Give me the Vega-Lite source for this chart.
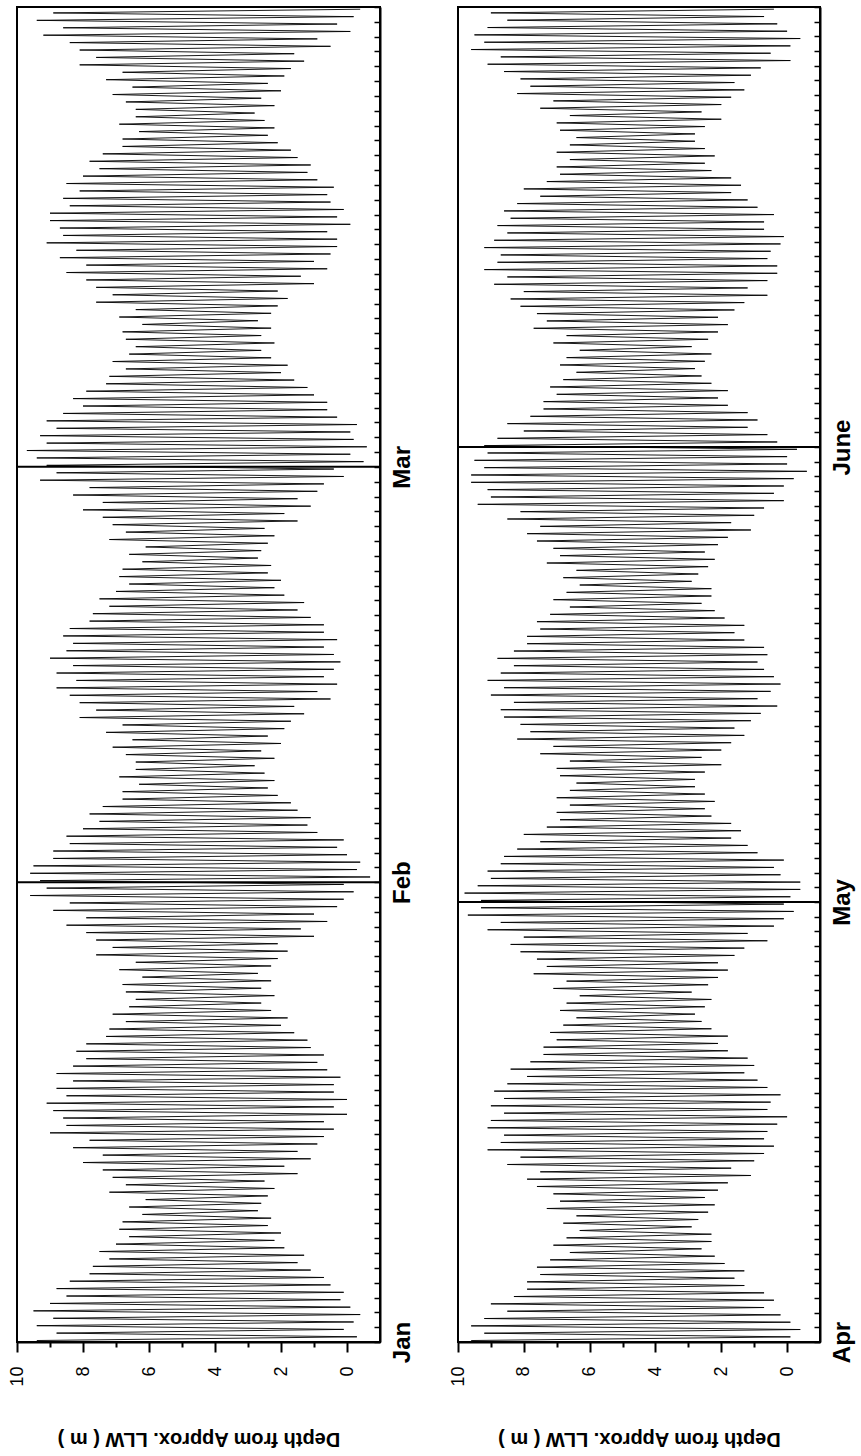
{
"$schema":"https://vega.github.io/schema/vega-lite/v6.json",
"padding":{"left":7,"top":5,"right":5,"bottom":5},
"spacing":32,
"config":{"font":"Liberation Sans","view":{"stroke":"black","strokeWidth":2},"axis":{"grid":false,"domainColor":"black","domainWidth":2,"tickColor":"black","tickWidth":2,"labelColor":"black","titleColor":"black"}},
"datasets":{
"a":[
{"t":0.1,"d":9.4},{"t":0.35,"d":-0.3},{"t":0.6,"d":8.8},{"t":0.85,"d":0.1},
{"t":1.1,"d":9.4},{"t":1.35,"d":-0.2},{"t":1.6,"d":8.9},{"t":1.85,"d":-0.4},
{"t":2.1,"d":9.5},{"t":2.35,"d":-0.1},{"t":2.6,"d":9.0},{"t":2.85,"d":0.2},
{"t":3.1,"d":8.5},{"t":3.35,"d":0.1},{"t":3.6,"d":8.8},{"t":3.85,"d":0.5},
{"t":4.1,"d":8.4},{"t":4.35,"d":0.7},{"t":4.6,"d":7.8},{"t":4.85,"d":1.1},
{"t":5.1,"d":7.7},{"t":5.35,"d":1.5},{"t":5.6,"d":7.2},{"t":5.85,"d":1.3},
{"t":6.1,"d":7.5},{"t":6.35,"d":1.9},{"t":6.6,"d":7.0},{"t":6.85,"d":2.2},
{"t":7.1,"d":6.6},{"t":7.35,"d":2.0},{"t":7.6,"d":6.9},{"t":7.85,"d":2.4},
{"t":8.1,"d":6.8},{"t":8.35,"d":2.3},{"t":8.6,"d":6.2},{"t":8.85,"d":2.7},
{"t":9.1,"d":6.6},{"t":9.35,"d":2.6},{"t":9.6,"d":6.1},{"t":9.85,"d":2.4},
{"t":10.1,"d":7.2},{"t":10.35,"d":2.2},{"t":10.6,"d":6.7},{"t":10.85,"d":2.5},
{"t":11.1,"d":7.1},{"t":11.35,"d":1.5},{"t":11.6,"d":7.4},{"t":11.85,"d":1.9},
{"t":12.1,"d":8.0},{"t":12.35,"d":1.1},{"t":12.6,"d":7.4},{"t":12.85,"d":1.5},
{"t":13.1,"d":8.3},{"t":13.35,"d":0.9},{"t":13.6,"d":7.8},{"t":13.85,"d":0.7},
{"t":14.1,"d":9.0},{"t":14.35,"d":0.4},{"t":14.6,"d":8.5},{"t":14.85,"d":0.7},
{"t":15.1,"d":8.6},{"t":15.35,"d":0.0},{"t":15.6,"d":8.9},{"t":15.85,"d":0.4},
{"t":16.1,"d":9.1},{"t":16.35,"d":0.0},{"t":16.6,"d":8.5},{"t":16.85,"d":0.4},
{"t":17.1,"d":8.8},{"t":17.35,"d":0.4},{"t":17.6,"d":8.3},{"t":17.85,"d":0.2},
{"t":18.1,"d":8.8},{"t":18.35,"d":0.6},{"t":18.6,"d":8.3},{"t":18.85,"d":0.9},
{"t":19.1,"d":7.9},{"t":19.35,"d":0.7},{"t":19.6,"d":8.2},{"t":19.85,"d":1.1},
{"t":20.1,"d":7.9},{"t":20.35,"d":1.2},{"t":20.6,"d":7.3},{"t":20.85,"d":1.6},
{"t":21.1,"d":7.2},{"t":21.35,"d":2.0},{"t":21.6,"d":6.7},{"t":21.85,"d":1.8},
{"t":22.1,"d":7.1},{"t":22.35,"d":2.3},{"t":22.6,"d":6.6},{"t":22.85,"d":2.6},
{"t":23.1,"d":6.4},{"t":23.35,"d":2.2},{"t":23.6,"d":6.7},{"t":23.85,"d":2.6},
{"t":24.1,"d":6.8},{"t":24.35,"d":2.3},{"t":24.6,"d":6.2},{"t":24.85,"d":2.7},
{"t":25.1,"d":6.9},{"t":25.35,"d":2.3},{"t":25.6,"d":6.4},{"t":25.85,"d":2.1},
{"t":26.1,"d":7.6},{"t":26.35,"d":1.8},{"t":26.6,"d":7.1},{"t":26.85,"d":2.1},
{"t":27.1,"d":7.6},{"t":27.35,"d":1.0},{"t":27.6,"d":7.9},{"t":27.85,"d":1.4},
{"t":28.1,"d":8.5},{"t":28.35,"d":0.6},{"t":28.6,"d":7.9},{"t":28.85,"d":1.0},
{"t":29.1,"d":8.9},{"t":29.35,"d":0.3},{"t":29.6,"d":8.4},{"t":29.85,"d":0.1},
{"t":30.1,"d":9.6},{"t":30.35,"d":-0.2},{"t":30.6,"d":9.1},{"t":30.85,"d":0.1},
{"t":31.1,"d":9.3},{"t":31.35,"d":-0.7},{"t":31.6,"d":9.6},{"t":31.85,"d":-0.3},
{"t":32.1,"d":9.5},{"t":32.35,"d":-0.4},{"t":32.6,"d":8.9},{"t":32.85,"d":0.0},
{"t":33.1,"d":8.9},{"t":33.35,"d":0.3},{"t":33.6,"d":8.4},{"t":33.85,"d":0.1},
{"t":34.1,"d":8.5},{"t":34.35,"d":0.9},{"t":34.6,"d":8.0},{"t":34.85,"d":1.2},
{"t":35.1,"d":7.5},{"t":35.35,"d":1.1},{"t":35.6,"d":7.8},{"t":35.85,"d":1.5},
{"t":36.1,"d":7.4},{"t":36.35,"d":1.7},{"t":36.6,"d":6.8},{"t":36.85,"d":2.1},
{"t":37.1,"d":6.8},{"t":37.35,"d":2.4},{"t":37.6,"d":6.3},{"t":37.85,"d":2.2},
{"t":38.1,"d":6.9},{"t":38.35,"d":2.5},{"t":38.6,"d":6.4},{"t":38.85,"d":2.8},
{"t":39.1,"d":6.4},{"t":39.35,"d":2.2},{"t":39.6,"d":6.7},{"t":39.85,"d":2.6},
{"t":40.1,"d":7.1},{"t":40.35,"d":2.0},{"t":40.6,"d":6.5},{"t":40.85,"d":2.4},
{"t":41.1,"d":7.3},{"t":41.35,"d":1.9},{"t":41.6,"d":6.8},{"t":41.85,"d":1.7},
{"t":42.1,"d":8.1},{"t":42.35,"d":1.3},{"t":42.6,"d":7.6},{"t":42.85,"d":1.6},
{"t":43.1,"d":8.1},{"t":43.35,"d":0.5},{"t":43.6,"d":8.4},{"t":43.85,"d":0.9},
{"t":44.1,"d":8.8},{"t":44.35,"d":0.3},{"t":44.6,"d":8.2},{"t":44.85,"d":0.7},
{"t":45.1,"d":8.8},{"t":45.35,"d":0.4},{"t":45.6,"d":8.3},{"t":45.85,"d":0.2},
{"t":46.1,"d":9.0},{"t":46.35,"d":0.4},{"t":46.6,"d":8.5},{"t":46.85,"d":0.7},
{"t":47.1,"d":8.3},{"t":47.35,"d":0.3},{"t":47.6,"d":8.6},{"t":47.85,"d":0.7},
{"t":48.1,"d":8.4},{"t":48.35,"d":0.7},{"t":48.6,"d":7.8},{"t":48.85,"d":1.1},
{"t":49.1,"d":7.7},{"t":49.35,"d":1.5},{"t":49.6,"d":7.2},{"t":49.85,"d":1.3},
{"t":50.1,"d":7.5},{"t":50.35,"d":1.9},{"t":50.6,"d":7.0},{"t":50.85,"d":2.2},
{"t":51.1,"d":6.6},{"t":51.35,"d":2.0},{"t":51.6,"d":6.9},{"t":51.85,"d":2.4},
{"t":52.1,"d":6.8},{"t":52.35,"d":2.3},{"t":52.6,"d":6.2},{"t":52.85,"d":2.7},
{"t":53.1,"d":6.6},{"t":53.35,"d":2.6},{"t":53.6,"d":6.1},{"t":53.85,"d":2.4},
{"t":54.1,"d":7.2},{"t":54.35,"d":2.2},{"t":54.6,"d":6.7},{"t":54.85,"d":2.5},
{"t":55.1,"d":7.1},{"t":55.35,"d":1.5},{"t":55.6,"d":7.4},{"t":55.85,"d":1.9},
{"t":56.1,"d":8.0},{"t":56.35,"d":1.1},{"t":56.6,"d":7.4},{"t":56.85,"d":1.5},
{"t":57.1,"d":8.3},{"t":57.35,"d":0.9},{"t":57.6,"d":7.8},{"t":57.85,"d":0.7},
{"t":58.1,"d":9.3},{"t":58.35,"d":0.1},{"t":58.6,"d":8.8},{"t":58.85,"d":0.4},
{"t":59.1,"d":9.1},{"t":59.35,"d":-0.5},{"t":59.6,"d":9.4},{"t":59.85,"d":-0.1},
{"t":60.1,"d":9.7},{"t":60.35,"d":-0.6},{"t":60.6,"d":9.1},{"t":60.85,"d":-0.2},
{"t":61.1,"d":9.3},{"t":61.35,"d":-0.1},{"t":61.6,"d":8.8},{"t":61.85,"d":-0.3},
{"t":62.1,"d":9.1},{"t":62.35,"d":0.3},{"t":62.6,"d":8.6},{"t":62.85,"d":0.6},
{"t":63.1,"d":8.0},{"t":63.35,"d":0.6},{"t":63.6,"d":8.3},{"t":63.85,"d":1.0},
{"t":64.1,"d":7.9},{"t":64.35,"d":1.2},{"t":64.6,"d":7.3},{"t":64.85,"d":1.6},
{"t":65.1,"d":7.2},{"t":65.35,"d":2.0},{"t":65.6,"d":6.7},{"t":65.85,"d":1.8},
{"t":66.1,"d":7.1},{"t":66.35,"d":2.3},{"t":66.6,"d":6.6},{"t":66.85,"d":2.6},
{"t":67.1,"d":6.4},{"t":67.35,"d":2.2},{"t":67.6,"d":6.7},{"t":67.85,"d":2.6},
{"t":68.1,"d":6.8},{"t":68.35,"d":2.3},{"t":68.6,"d":6.2},{"t":68.85,"d":2.7},
{"t":69.1,"d":6.9},{"t":69.35,"d":2.3},{"t":69.6,"d":6.4},{"t":69.85,"d":2.1},
{"t":70.1,"d":7.6},{"t":70.35,"d":1.8},{"t":70.6,"d":7.1},{"t":70.85,"d":2.1},
{"t":71.1,"d":7.6},{"t":71.35,"d":1.0},{"t":71.6,"d":7.9},{"t":71.85,"d":1.4},
{"t":72.1,"d":8.5},{"t":72.35,"d":0.6},{"t":72.6,"d":7.9},{"t":72.85,"d":1.0},
{"t":73.1,"d":8.7},{"t":73.35,"d":0.5},{"t":73.6,"d":8.2},{"t":73.85,"d":0.3},
{"t":74.1,"d":9.1},{"t":74.35,"d":0.3},{"t":74.6,"d":8.6},{"t":74.85,"d":0.6},
{"t":75.1,"d":8.7},{"t":75.35,"d":-0.1},{"t":75.6,"d":9.0},{"t":75.85,"d":0.3},
{"t":76.1,"d":9.0},{"t":76.35,"d":0.1},{"t":76.6,"d":8.4},{"t":76.85,"d":0.5},
{"t":77.1,"d":8.6},{"t":77.35,"d":0.6},{"t":77.6,"d":8.1},{"t":77.85,"d":0.4},
{"t":78.1,"d":8.5},{"t":78.35,"d":0.9},{"t":78.6,"d":8.0},{"t":78.85,"d":1.2},
{"t":79.1,"d":7.5},{"t":79.35,"d":1.1},{"t":79.6,"d":7.8},{"t":79.85,"d":1.5},
{"t":80.1,"d":7.4},{"t":80.35,"d":1.7},{"t":80.6,"d":6.8},{"t":80.85,"d":2.1},
{"t":81.1,"d":6.8},{"t":81.35,"d":2.4},{"t":81.6,"d":6.3},{"t":81.85,"d":2.2},
{"t":82.1,"d":6.9},{"t":82.35,"d":2.5},{"t":82.6,"d":6.4},{"t":82.85,"d":2.8},
{"t":83.1,"d":6.4},{"t":83.35,"d":2.2},{"t":83.6,"d":6.7},{"t":83.85,"d":2.6},
{"t":84.1,"d":7.1},{"t":84.35,"d":2.0},{"t":84.6,"d":6.5},{"t":84.85,"d":2.4},
{"t":85.1,"d":7.3},{"t":85.35,"d":1.9},{"t":85.6,"d":6.8},{"t":85.85,"d":1.7},
{"t":86.1,"d":8.1},{"t":86.35,"d":1.3},{"t":86.6,"d":7.6},{"t":86.85,"d":1.6},
{"t":87.1,"d":8.1},{"t":87.35,"d":0.5},{"t":87.6,"d":8.4},{"t":87.85,"d":0.9},
{"t":88.1,"d":9.2},{"t":88.35,"d":-0.1},{"t":88.6,"d":8.6},{"t":88.85,"d":0.3},
{"t":89.1,"d":9.4},{"t":89.35,"d":-0.2},{"t":89.6,"d":8.9},{"t":89.85,"d":-0.4}
],
"b":[
{"t":0.1,"d":9.6},{"t":0.35,"d":-0.1},{"t":0.6,"d":9.2},{"t":0.85,"d":-0.4},
{"t":1.1,"d":9.6},{"t":1.35,"d":-0.1},{"t":1.6,"d":9.2},{"t":1.85,"d":0.2},
{"t":2.1,"d":8.5},{"t":2.35,"d":0.7},{"t":2.6,"d":9.0},{"t":2.85,"d":0.4},
{"t":3.1,"d":8.3},{"t":3.35,"d":0.7},{"t":3.6,"d":7.9},{"t":3.85,"d":1.3},
{"t":4.1,"d":7.9},{"t":4.35,"d":1.6},{"t":4.6,"d":7.5},{"t":4.85,"d":1.3},
{"t":5.1,"d":7.6},{"t":5.35,"d":1.9},{"t":5.6,"d":7.2},{"t":5.85,"d":2.2},
{"t":6.1,"d":6.6},{"t":6.35,"d":2.6},{"t":6.6,"d":7.1},{"t":6.85,"d":2.3},
{"t":7.1,"d":6.7},{"t":7.35,"d":2.3},{"t":7.6,"d":6.3},{"t":7.85,"d":2.9},
{"t":8.1,"d":6.8},{"t":8.35,"d":2.7},{"t":8.6,"d":6.4},{"t":8.85,"d":2.4},
{"t":9.1,"d":7.3},{"t":9.35,"d":2.2},{"t":9.6,"d":6.9},{"t":9.85,"d":2.5},
{"t":10.1,"d":7.1},{"t":10.35,"d":2.1},{"t":10.6,"d":7.6},{"t":10.85,"d":1.8},
{"t":11.1,"d":7.9},{"t":11.35,"d":1.1},{"t":11.6,"d":7.5},{"t":11.85,"d":1.7},
{"t":12.1,"d":8.5},{"t":12.35,"d":1.0},{"t":12.6,"d":8.1},{"t":12.85,"d":0.7},
{"t":13.1,"d":9.1},{"t":13.35,"d":0.4},{"t":13.6,"d":8.7},{"t":13.85,"d":0.7},
{"t":14.1,"d":8.6},{"t":14.35,"d":0.6},{"t":14.6,"d":9.1},{"t":14.85,"d":0.3},
{"t":15.1,"d":9.0},{"t":15.35,"d":0.0},{"t":15.6,"d":8.6},{"t":15.85,"d":0.6},
{"t":16.1,"d":9.0},{"t":16.35,"d":0.5},{"t":16.6,"d":8.6},{"t":16.85,"d":0.2},
{"t":17.1,"d":8.9},{"t":17.35,"d":0.6},{"t":17.6,"d":8.5},{"t":17.85,"d":0.9},
{"t":18.1,"d":7.9},{"t":18.35,"d":1.3},{"t":18.6,"d":8.4},{"t":18.85,"d":1.0},
{"t":19.1,"d":7.8},{"t":19.35,"d":1.2},{"t":19.6,"d":7.4},{"t":19.85,"d":1.8},
{"t":20.1,"d":7.4},{"t":20.35,"d":2.1},{"t":20.6,"d":7.0},{"t":20.85,"d":1.8},
{"t":21.1,"d":7.2},{"t":21.35,"d":2.3},{"t":21.6,"d":6.8},{"t":21.85,"d":2.6},
{"t":22.1,"d":6.4},{"t":22.35,"d":2.8},{"t":22.6,"d":6.9},{"t":22.85,"d":2.5},
{"t":23.1,"d":6.7},{"t":23.35,"d":2.3},{"t":23.6,"d":6.3},{"t":23.85,"d":2.9},
{"t":24.1,"d":7.1},{"t":24.35,"d":2.4},{"t":24.6,"d":6.7},{"t":24.85,"d":2.1},
{"t":25.1,"d":7.7},{"t":25.35,"d":1.8},{"t":25.6,"d":7.3},{"t":25.85,"d":2.1},
{"t":26.1,"d":7.6},{"t":26.35,"d":1.6},{"t":26.6,"d":8.1},{"t":26.85,"d":1.3},
{"t":27.1,"d":8.4},{"t":27.35,"d":0.6},{"t":27.6,"d":8.0},{"t":27.85,"d":1.2},
{"t":28.1,"d":9.1},{"t":28.35,"d":0.4},{"t":28.6,"d":8.7},{"t":28.85,"d":0.1},
{"t":29.1,"d":9.7},{"t":29.35,"d":-0.2},{"t":29.6,"d":9.3},{"t":29.85,"d":0.1},
{"t":30.1,"d":9.3},{"t":30.35,"d":-0.1},{"t":30.6,"d":9.8},{"t":30.85,"d":-0.4},
{"t":31.1,"d":9.4},{"t":31.35,"d":-0.4},{"t":31.6,"d":9.0},{"t":31.85,"d":0.2},
{"t":32.1,"d":9.1},{"t":32.35,"d":0.4},{"t":32.6,"d":8.7},{"t":32.85,"d":0.1},
{"t":33.1,"d":8.6},{"t":33.35,"d":0.9},{"t":33.6,"d":8.2},{"t":33.85,"d":1.2},
{"t":34.1,"d":7.5},{"t":34.35,"d":1.7},{"t":34.6,"d":8.0},{"t":34.85,"d":1.4},
{"t":35.1,"d":7.3},{"t":35.35,"d":1.7},{"t":35.6,"d":6.9},{"t":35.85,"d":2.3},
{"t":36.1,"d":7.0},{"t":36.35,"d":2.5},{"t":36.6,"d":6.6},{"t":36.85,"d":2.2},
{"t":37.1,"d":7.0},{"t":37.35,"d":2.5},{"t":37.6,"d":6.6},{"t":37.85,"d":2.8},
{"t":38.1,"d":6.4},{"t":38.35,"d":2.8},{"t":38.6,"d":6.9},{"t":38.85,"d":2.5},
{"t":39.1,"d":7.0},{"t":39.35,"d":2.0},{"t":39.6,"d":6.6},{"t":39.85,"d":2.6},
{"t":40.1,"d":7.5},{"t":40.35,"d":2.0},{"t":40.6,"d":7.1},{"t":40.85,"d":1.7},
{"t":41.1,"d":8.2},{"t":41.35,"d":1.3},{"t":41.6,"d":7.8},{"t":41.85,"d":1.6},
{"t":42.1,"d":8.1},{"t":42.35,"d":1.1},{"t":42.6,"d":8.6},{"t":42.85,"d":0.8},
{"t":43.1,"d":8.7},{"t":43.35,"d":0.3},{"t":43.6,"d":8.3},{"t":43.85,"d":0.9},
{"t":44.1,"d":9.0},{"t":44.35,"d":0.5},{"t":44.6,"d":8.6},{"t":44.85,"d":0.2},
{"t":45.1,"d":9.1},{"t":45.35,"d":0.4},{"t":45.6,"d":8.7},{"t":45.85,"d":0.7},
{"t":46.1,"d":8.3},{"t":46.35,"d":0.9},{"t":46.6,"d":8.8},{"t":46.85,"d":0.6},
{"t":47.1,"d":8.3},{"t":47.35,"d":0.7},{"t":47.6,"d":7.9},{"t":47.85,"d":1.3},
{"t":48.1,"d":7.9},{"t":48.35,"d":1.6},{"t":48.6,"d":7.5},{"t":48.85,"d":1.3},
{"t":49.1,"d":7.6},{"t":49.35,"d":1.9},{"t":49.6,"d":7.2},{"t":49.85,"d":2.2},
{"t":50.1,"d":6.6},{"t":50.35,"d":2.6},{"t":50.6,"d":7.1},{"t":50.85,"d":2.3},
{"t":51.1,"d":6.7},{"t":51.35,"d":2.3},{"t":51.6,"d":6.3},{"t":51.85,"d":2.9},
{"t":52.1,"d":6.8},{"t":52.35,"d":2.7},{"t":52.6,"d":6.4},{"t":52.85,"d":2.4},
{"t":53.1,"d":7.3},{"t":53.35,"d":2.2},{"t":53.6,"d":6.9},{"t":53.85,"d":2.5},
{"t":54.1,"d":7.1},{"t":54.35,"d":2.1},{"t":54.6,"d":7.6},{"t":54.85,"d":1.8},
{"t":55.1,"d":7.9},{"t":55.35,"d":1.1},{"t":55.6,"d":7.5},{"t":55.85,"d":1.7},
{"t":56.1,"d":8.5},{"t":56.35,"d":1.0},{"t":56.6,"d":8.1},{"t":56.85,"d":0.7},
{"t":57.1,"d":9.4},{"t":57.35,"d":0.1},{"t":57.6,"d":9.0},{"t":57.85,"d":0.4},
{"t":58.1,"d":9.1},{"t":58.35,"d":0.1},{"t":58.6,"d":9.6},{"t":58.85,"d":-0.2},
{"t":59.1,"d":9.6},{"t":59.35,"d":-0.6},{"t":59.6,"d":9.2},{"t":59.85,"d":0.0},
{"t":60.1,"d":9.5},{"t":60.35,"d":0.0},{"t":60.6,"d":9.1},{"t":60.85,"d":-0.3},
{"t":61.1,"d":9.2},{"t":61.35,"d":0.3},{"t":61.6,"d":8.8},{"t":61.85,"d":0.6},
{"t":62.1,"d":8.0},{"t":62.35,"d":1.2},{"t":62.6,"d":8.5},{"t":62.85,"d":0.9},
{"t":63.1,"d":7.8},{"t":63.35,"d":1.2},{"t":63.6,"d":7.4},{"t":63.85,"d":1.8},
{"t":64.1,"d":7.4},{"t":64.35,"d":2.1},{"t":64.6,"d":7.0},{"t":64.85,"d":1.8},
{"t":65.1,"d":7.2},{"t":65.35,"d":2.3},{"t":65.6,"d":6.8},{"t":65.85,"d":2.6},
{"t":66.1,"d":6.4},{"t":66.35,"d":2.8},{"t":66.6,"d":6.9},{"t":66.85,"d":2.5},
{"t":67.1,"d":6.7},{"t":67.35,"d":2.3},{"t":67.6,"d":6.3},{"t":67.85,"d":2.9},
{"t":68.1,"d":7.1},{"t":68.35,"d":2.4},{"t":68.6,"d":6.7},{"t":68.85,"d":2.1},
{"t":69.1,"d":7.7},{"t":69.35,"d":1.8},{"t":69.6,"d":7.3},{"t":69.85,"d":2.1},
{"t":70.1,"d":7.6},{"t":70.35,"d":1.6},{"t":70.6,"d":8.1},{"t":70.85,"d":1.3},
{"t":71.1,"d":8.4},{"t":71.35,"d":0.6},{"t":71.6,"d":8.0},{"t":71.85,"d":1.2},
{"t":72.1,"d":8.9},{"t":72.35,"d":0.6},{"t":72.6,"d":8.5},{"t":72.85,"d":0.3},
{"t":73.1,"d":9.2},{"t":73.35,"d":0.3},{"t":73.6,"d":8.8},{"t":73.85,"d":0.6},
{"t":74.1,"d":8.7},{"t":74.35,"d":0.5},{"t":74.6,"d":9.2},{"t":74.85,"d":0.2},
{"t":75.1,"d":8.9},{"t":75.35,"d":0.1},{"t":75.6,"d":8.5},{"t":75.85,"d":0.7},
{"t":76.1,"d":8.8},{"t":76.35,"d":0.7},{"t":76.6,"d":8.4},{"t":76.85,"d":0.4},
{"t":77.1,"d":8.6},{"t":77.35,"d":0.9},{"t":77.6,"d":8.2},{"t":77.85,"d":1.2},
{"t":78.1,"d":7.5},{"t":78.35,"d":1.7},{"t":78.6,"d":8.0},{"t":78.85,"d":1.4},
{"t":79.1,"d":7.3},{"t":79.35,"d":1.7},{"t":79.6,"d":6.9},{"t":79.85,"d":2.3},
{"t":80.1,"d":7.0},{"t":80.35,"d":2.5},{"t":80.6,"d":6.6},{"t":80.85,"d":2.2},
{"t":81.1,"d":7.0},{"t":81.35,"d":2.5},{"t":81.6,"d":6.6},{"t":81.85,"d":2.8},
{"t":82.1,"d":6.4},{"t":82.35,"d":2.8},{"t":82.6,"d":6.9},{"t":82.85,"d":2.5},
{"t":83.1,"d":7.0},{"t":83.35,"d":2.0},{"t":83.6,"d":6.6},{"t":83.85,"d":2.6},
{"t":84.1,"d":7.5},{"t":84.35,"d":2.0},{"t":84.6,"d":7.1},{"t":84.85,"d":1.7},
{"t":85.1,"d":8.2},{"t":85.35,"d":1.3},{"t":85.6,"d":7.8},{"t":85.85,"d":1.6},
{"t":86.1,"d":8.1},{"t":86.35,"d":1.1},{"t":86.6,"d":8.6},{"t":86.85,"d":0.8},
{"t":87.1,"d":9.1},{"t":87.35,"d":-0.1},{"t":87.6,"d":8.7},{"t":87.85,"d":0.5},
{"t":88.1,"d":9.6},{"t":88.35,"d":-0.1},{"t":88.6,"d":9.2},{"t":88.85,"d":-0.4},
{"t":89.1,"d":9.5},{"t":89.35,"d":0.0},{"t":89.6,"d":9.1},{"t":89.85,"d":0.3},
{"t":90.1,"d":8.5},{"t":90.35,"d":0.7},{"t":90.6,"d":9.0},{"t":90.85,"d":0.4}
]
},
"hconcat":[
{
"width":363,"height":1335,
"layer":[
{"data":{"name":"a"},"mark":{"type":"line","color":"black","strokeWidth":0.9},
"encoding":{
"x":{"field":"d","type":"quantitative","scale":{"domain":[-1,10],"reverse":true,"nice":false,"zero":false},
"axis":{"values":[0,1,2,3,4,5,6,7,8,9,10],"tickCount":50,"format":"d","labelExpr":"datum.value % 2 == 0 ? datum.label : ''","labelAngle":-90,"labelAlign":"right","labelBaseline":"middle","labelFontSize":18,"labelPadding":14,"tickSize":{"condition":{"test":"datum.value % 2 == 0","value":10},"value":5},"labelOverlap":false,"title":"Depth from Approx. LLW ( m )","titleAngle":180,"titleBaseline":"bottom","titleFontSize":20,"titleFontWeight":"bold","titlePadding":42}},
"y":{"field":"t","type":"quantitative","title":null,"scale":{"domain":[0,90],"nice":false,"zero":false},
"axis":{"orient":"right","values":[0,1,2,3,4,5,6,7,8,9,10,11,12,13,14,15,16,17,18,19,20,21,22,23,24,25,26,27,28,29,30,31,32,33,34,35,36,37,38,39,40,41,42,43,44,45,46,47,48,49,50,51,52,53,54,55,56,57,58,59,60,61,62,63,64,65,66,67,68,69,70,71,72,73,74,75,76,77,78,79,80,81,82,83,84,85,86,87,88,89,90],"tickCount":500,"labelExpr":"datum.value == 0 ? 'Jan' : datum.value == 31 ? 'Feb' : datum.value == 59 ? 'Mar' : ''","tickSize":-6,"tickWidth":1.5,"labelAngle":-90,"labelAlign":"center","labelBaseline":"top","labelFontSize":24,"labelFontWeight":"bold","labelPadding":16,"labelOverlap":false,"labelBound":false,"labelFlush":false}},
"order":{"field":"t","type":"quantitative"}}},
{"data":{"values":[{"t":31},{"t":59}]},"mark":{"type":"rule","color":"black","strokeWidth":2},
"encoding":{"y":{"field":"t","type":"quantitative","title":null}}}
]
},
{
"width":362,"height":1335,
"layer":[
{"data":{"name":"b"},"mark":{"type":"line","color":"black","strokeWidth":0.9},
"encoding":{
"x":{"field":"d","type":"quantitative","scale":{"domain":[-1,10],"reverse":true,"nice":false,"zero":false},
"axis":{"values":[0,1,2,3,4,5,6,7,8,9,10],"tickCount":50,"format":"d","labelExpr":"datum.value % 2 == 0 ? datum.label : ''","labelAngle":-90,"labelAlign":"right","labelBaseline":"middle","labelFontSize":18,"labelPadding":14,"tickSize":{"condition":{"test":"datum.value % 2 == 0","value":10},"value":5},"labelOverlap":false,"title":"Depth from Approx. LLW ( m )","titleAngle":180,"titleBaseline":"bottom","titleFontSize":20,"titleFontWeight":"bold","titlePadding":42}},
"y":{"field":"t","type":"quantitative","title":null,"scale":{"domain":[0,91],"nice":false,"zero":false},
"axis":{"orient":"right","values":[0,1,2,3,4,5,6,7,8,9,10,11,12,13,14,15,16,17,18,19,20,21,22,23,24,25,26,27,28,29,30,31,32,33,34,35,36,37,38,39,40,41,42,43,44,45,46,47,48,49,50,51,52,53,54,55,56,57,58,59,60,61,62,63,64,65,66,67,68,69,70,71,72,73,74,75,76,77,78,79,80,81,82,83,84,85,86,87,88,89,90,91],"tickCount":500,"labelExpr":"datum.value == 0 ? 'Apr' : datum.value == 30 ? 'May' : datum.value == 61 ? 'June' : ''","tickSize":-6,"tickWidth":1.5,"labelAngle":-90,"labelAlign":"center","labelBaseline":"top","labelFontSize":24,"labelFontWeight":"bold","labelPadding":16,"labelOverlap":false,"labelBound":false,"labelFlush":false}},
"order":{"field":"t","type":"quantitative"}}},
{"data":{"values":[{"t":30},{"t":61}]},"mark":{"type":"rule","color":"black","strokeWidth":2},
"encoding":{"y":{"field":"t","type":"quantitative","title":null}}}
]
}
]
}
